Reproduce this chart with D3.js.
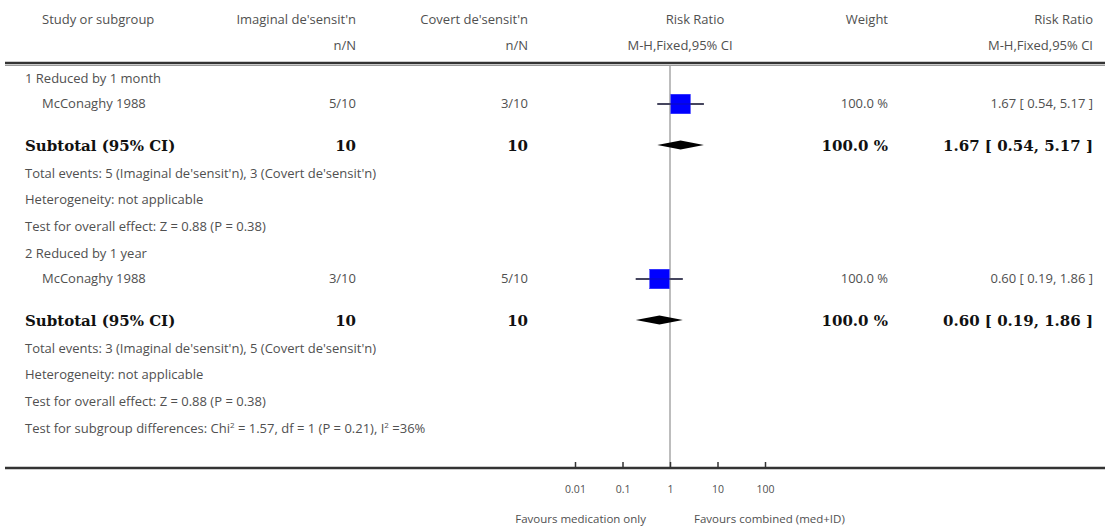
<!DOCTYPE html>
<html><head><meta charset="utf-8">
<script src="https://cdn.jsdelivr.net/npm/d3@7"></script>
<style>
body{margin:0;background:#fff;}
svg{display:block;}
.t{font-family:"Open Sans",Lato,sans-serif;font-size:13px;fill:#505050;}
.s{font-family:"Open Sans",Lato,sans-serif;font-size:10.5px;fill:#505050;}
.f{font-family:"Open Sans",Lato,sans-serif;font-size:11.5px;fill:#505050;}
.b{font-family:"DejaVu Serif","Liberation Serif",serif;font-size:15px;font-weight:bold;fill:#111;}
</style></head>
<body><svg id="c" width="1105" height="532"></svg>
<script>
// ---- data ----
const headers1 = ["Study or subgroup","Imaginal de'sensit'n","Covert de'sensit'n","Risk Ratio","Weight","Risk Ratio"];
const headers2 = ["","n/N","n/N","M-H,Fixed,95% CI","","M-H,Fixed,95% CI"];
const subgroups = ["1 Reduced by 1 month","2 Reduced by 1 year"];
const studyNames = ["McConaghy 1988","McConaghy 1988"];
const expEvents = ["5/10","3/10"];
const ctlEvents = ["3/10","5/10"];
const rr = [1.67, 0.60];
const lo = [0.54, 0.19];
const hi = [5.17, 1.86];
const weights = ["100.0 %","100.0 %"];
const subN1 = ["10","10"];
const subN2 = ["10","10"];
const totalEvents = ["Total events: 5 (Imaginal de'sensit'n), 3 (Covert de'sensit'n)","Total events: 3 (Imaginal de'sensit'n), 5 (Covert de'sensit'n)"];
const heterogeneity = ["Heterogeneity: not applicable","Heterogeneity: not applicable"];
const overall = ["Test for overall effect: Z = 0.88 (P = 0.38)","Test for overall effect: Z = 0.88 (P = 0.38)"];
const tickVals = [0.01,0.1,1,10,100];
const tickLabels = ["0.01","0.1","1","10","100"];
const favLeft = "Favours medication only";
const favRight = "Favours combined (med+ID)";

const svg = d3.select("#c");
const x = d3.scaleLog().domain([0.01,100]).range([575,765]);
const fmt = v => v.toFixed(2);

const colX = {name:42, exp:356, ctl:528, wt:888, ci:1093};
const anchors = ["start","end","end","middle","end","end"];
const hx = [42,356,528,695,888,1093];
const h2x = [42,356,528,680,888,1093];

headers1.forEach((h,i)=>svg.append("text").attr("class","t").attr("x",hx[i]).attr("y",24).attr("text-anchor",anchors[i]).text(h));
headers2.forEach((h,i)=>{ if(h) svg.append("text").attr("class","t").attr("x",h2x[i]).attr("y",50).attr("text-anchor",anchors[i]).text(h);});

// top rule (double)
svg.append("line").attr("x1",5).attr("x2",1105).attr("y1",63).attr("y2",63).attr("stroke","#333").attr("stroke-width",2.5);
svg.append("line").attr("x1",5).attr("x2",1105).attr("y1",65.5).attr("y2",65.5).attr("stroke","#999").attr("stroke-width",1);

// vertical line of no effect
svg.append("line").attr("x1",x(1)).attr("x2",x(1)).attr("y1",66).attr("y2",468).attr("stroke","#bdbdbd").attr("stroke-width",2);

const groupTop = [0, 175];
subgroups.forEach((g,i)=>{
  const o = groupTop[i];
  svg.append("text").attr("class","t").attr("x",25).attr("y",83+o).text(g);
  const ry = 104+o;
  svg.append("text").attr("class","t").attr("x",42).attr("y",ry+4).text(studyNames[i]);
  svg.append("text").attr("class","t").attr("x",colX.exp).attr("y",ry+4).attr("text-anchor","end").text(expEvents[i]);
  svg.append("text").attr("class","t").attr("x",colX.ctl).attr("y",ry+4).attr("text-anchor","end").text(ctlEvents[i]);
  svg.append("text").attr("class","t").attr("x",colX.wt).attr("y",ry+4).attr("text-anchor","end").text(weights[i]);
  svg.append("text").attr("class","t").attr("x",colX.ci).attr("y",ry+4).attr("text-anchor","end")
     .text(`${fmt(rr[i])} [ ${fmt(lo[i])}, ${fmt(hi[i])} ]`);
  svg.append("line").attr("x1",x(lo[i])).attr("x2",x(hi[i])).attr("y1",ry).attr("y2",ry).attr("stroke","#555").attr("stroke-width",2);
  const s = 19.5;
  svg.append("rect").attr("x",x(rr[i])-s/2).attr("y",ry-s/2).attr("width",s).attr("height",s).attr("fill","#0000ff").attr("stroke","#2a2aff").attr("stroke-width",0.5);
  svg.append("line").attr("x1",x(lo[i])).attr("x2",x(hi[i])).attr("y1",ry).attr("y2",ry).attr("stroke","#1a1a7a").attr("stroke-width",1).attr("opacity",0.5);
  const sy = 145+o;
  svg.append("text").attr("class","b").attr("x",25).attr("y",sy+6).text("Subtotal (95% CI)");
  svg.append("text").attr("class","b").attr("x",colX.exp).attr("y",sy+6).attr("text-anchor","end").text(subN1[i]);
  svg.append("text").attr("class","b").attr("x",colX.ctl).attr("y",sy+6).attr("text-anchor","end").text(subN2[i]);
  svg.append("text").attr("class","b").attr("x",colX.wt).attr("y",sy+6).attr("text-anchor","end").text(weights[i]);
  svg.append("text").attr("class","b").attr("x",colX.ci).attr("y",sy+6).attr("text-anchor","end")
     .text(`${fmt(rr[i])} [ ${fmt(lo[i])}, ${fmt(hi[i])} ]`);
  const dh = 4.5;
  svg.append("path").attr("d",`M${x(lo[i])},${sy} L${x(rr[i])},${sy-dh} L${x(hi[i])},${sy} L${x(rr[i])},${sy+dh} Z`).attr("fill","#000");
  svg.append("text").attr("class","t").attr("x",25).attr("y",178+o).text(totalEvents[i]);
  svg.append("text").attr("class","t").attr("x",25).attr("y",204+o).text(heterogeneity[i]);
  svg.append("text").attr("class","t").attr("x",25).attr("y",231+o).text(overall[i]);
});

const sd = svg.append("text").attr("class","t").attr("x",25).attr("y",433);
sd.append("tspan").text("Test for subgroup differences: Chi");
sd.append("tspan").attr("baseline-shift","super").attr("font-size","8px").text("2");
sd.append("tspan").text(" = 1.57, df = 1 (P = 0.21), I");
sd.append("tspan").attr("baseline-shift","super").attr("font-size","8px").text("2");
sd.append("tspan").text(" =36%");

svg.append("line").attr("x1",5).attr("x2",1105).attr("y1",468).attr("y2",468).attr("stroke","#333").attr("stroke-width",2.5);

const ax = svg.append("g").attr("transform","translate(0,468)")
  .call(d3.axisBottom(x).tickValues(tickVals).tickFormat((d,i)=>tickLabels[i]).tickSize(-6).tickPadding(18));
ax.select(".domain").remove();
ax.selectAll(".tick line").attr("stroke","#333").attr("stroke-width",1.5);
ax.selectAll(".tick text").attr("class","s").attr("fill","#555");

svg.append("text").attr("class","f").attr("x",646).attr("y",523).attr("text-anchor","end").text(favLeft);
svg.append("text").attr("class","f").attr("x",694).attr("y",523).text(favRight);
</script></body></html>
